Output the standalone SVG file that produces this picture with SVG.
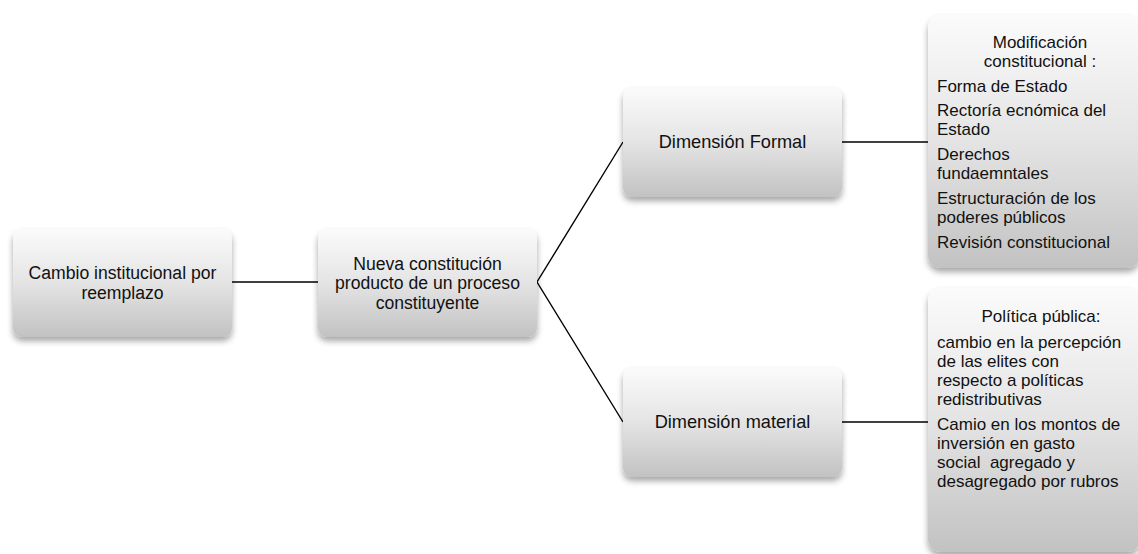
<svg xmlns="http://www.w3.org/2000/svg" width="1138" height="554" viewBox="0 0 1138 554">
<defs>
<linearGradient id="g" x1="0" y1="0" x2="0" y2="1">
<stop offset="0" stop-color="#fbfbfb"/>
<stop offset="0.5" stop-color="#e4e4e4"/>
<stop offset="1" stop-color="#c2c2c2"/>
</linearGradient>
<filter id="sh" x="-10%" y="-10%" width="120%" height="125%">
<feDropShadow dx="0" dy="4" stdDeviation="3" flood-color="#000" flood-opacity="0.35"/>
</filter>
<style>
.box{fill:url(#g);filter:url(#sh)}
.t{font-family:"Liberation Sans",Arial,sans-serif;font-size:17.6px;fill:#111;white-space:pre}
.d{font-size:18.2px}
.s{font-size:17px}
.c{text-anchor:middle}
.ln{stroke:#000;stroke-width:1.4;fill:none}
</style>
</defs>
<rect width="1138" height="554" fill="#fff"/>
<g id="connectors">
<line class="ln" x1="232" y1="282" x2="318" y2="282"/>
<polyline class="ln" points="623,142 537,282 623,422"/>
<line class="ln" x1="842" y1="142" x2="928" y2="142"/>
<line class="ln" x1="842" y1="422" x2="928" y2="422"/>
</g>
<g id="n1">
<rect class="box" x="13" y="229" width="219" height="108" rx="9"/>
<text class="t c" x="122.5" y="279.4">Cambio institucional por</text>
<text class="t c" x="122.5" y="299.1">reemplazo</text>
</g>
<g id="n2">
<rect class="box" x="318" y="229" width="219" height="108" rx="9"/>
<text class="t c" x="427.5" y="269.6">Nueva constitución</text>
<text class="t c" x="427.5" y="289.3">producto de un proceso</text>
<text class="t c" x="427.5" y="309">constituyente</text>
</g>
<g id="n3">
<rect class="box" x="623" y="88" width="219" height="109" rx="9"/>
<text class="t d c" x="732.5" y="148">Dimensión Formal</text>
</g>
<g id="n4">
<rect class="box" x="623" y="368" width="219" height="109" rx="9"/>
<text class="t d c" x="732.5" y="428">Dimensión material</text>
</g>
<g id="n5">
<rect class="box" x="928" y="15" width="212" height="253" rx="13"/>
<text class="t s c" x="1040" y="48">Modificación</text>
<text class="t s c" x="1040" y="67.1">constitucional :</text>
<text class="t s" x="937" y="91.5">Forma de Estado</text>
<text class="t s" x="937" y="116">Rectoría ecnómica del</text>
<text class="t s" x="937" y="135.1">Estado</text>
<text class="t s" x="937" y="160">Derechos</text>
<text class="t s" x="937" y="179.1">fundaemntales</text>
<text class="t s" x="937" y="204">Estructuración de los</text>
<text class="t s" x="937" y="223.1">poderes públicos</text>
<text class="t s" x="937" y="248">Revisión constitucional</text>
</g>
<g id="n6">
<rect class="box" x="928" y="288" width="212" height="264" rx="13"/>
<text class="t s c" x="1041" y="322">Política pública:</text>
<text class="t s" x="937" y="348">cambio en la percepción</text>
<text class="t s" x="937" y="367.1">de las elites con</text>
<text class="t s" x="937" y="386.2">respecto a políticas</text>
<text class="t s" x="937" y="405.3">redistributivas</text>
<text class="t s" x="937" y="429.5">Camio en los montos de</text>
<text class="t s" x="937" y="448.6">inversión en gasto</text>
<text class="t s" x="937" y="467.7">social  agregado y</text>
<text class="t s" x="937" y="486.8">desagregado por rubros</text>
</g>
</svg>
